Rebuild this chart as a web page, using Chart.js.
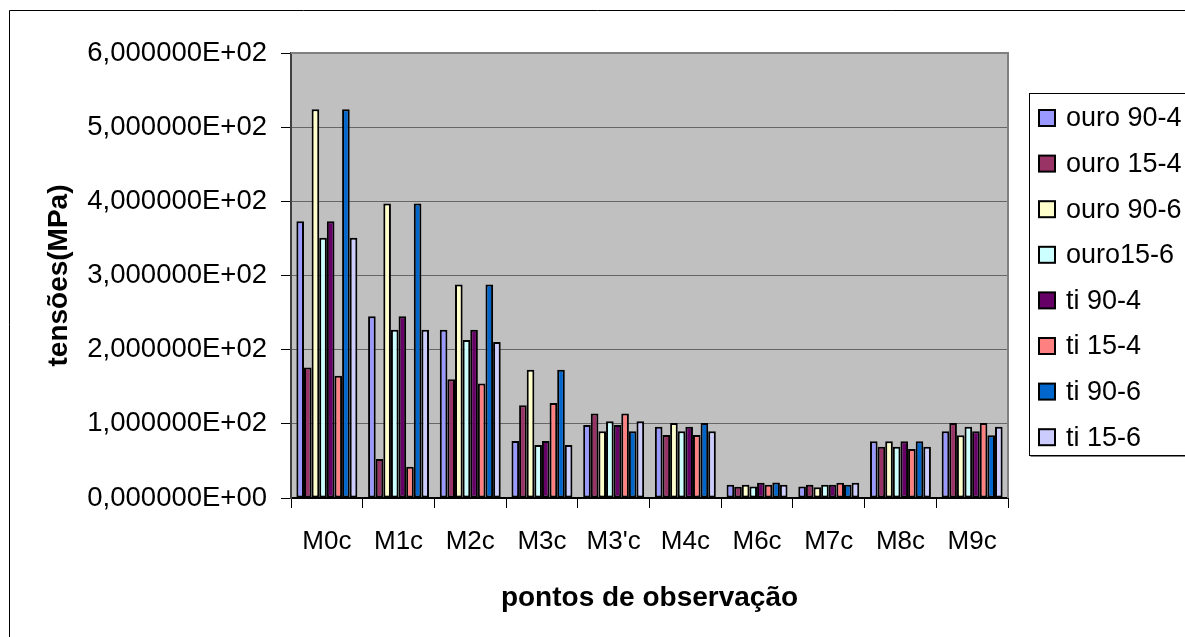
<!DOCTYPE html>
<html>
<head>
<meta charset="utf-8">
<script src="https://cdn.jsdelivr.net/npm/chart.js@4/dist/chart.umd.min.js"></script>
<style>
  html, body { margin: 0; padding: 0; background: #fff; }
  canvas { display: block; }
</style>
</head>
<body>
<canvas id="c" width="1185" height="637"></canvas>
<script>
// Observation points
const categories = ['M0c', 'M1c', 'M2c', 'M3c', "M3'c", 'M4c', 'M6c', 'M7c', 'M8c', 'M9c'];

// Stress values (MPa) per specimen
const ouro90_4 = [373, 245, 227, 77, 98.5, 96, 17.8, 15.6, 76.5, 90];
const ouro15_4 = [176, 52.5, 160, 125, 114, 85, 15.1, 17.8, 69, 101];
const ouro90_6 = [524, 397, 288, 173, 90, 101, 17.8, 14.6, 76.5, 84.6];
const ouro15_6 = [351, 227, 213, 71.5, 103.5, 90, 15.6, 17.8, 69, 96];
const ti90_4   = [373, 245, 227, 77, 98.5, 96, 20.5, 17.8, 76.5, 90];
const ti15_4   = [165, 42, 154.5, 128, 114, 85, 17.8, 20.5, 66, 101];
const ti90_6   = [524, 397, 288, 173, 90, 101, 21, 17.8, 76.5, 84.6];
const ti15_6   = [351, 227, 210.5, 71.5, 103.5, 90, 17.8, 20.5, 69, 96];

const seriesNames = ['ouro 90-4', 'ouro 15-4', 'ouro 90-6', 'ouro15-6', 'ti 90-4', 'ti 15-4', 'ti 90-6', 'ti 15-6'];
const seriesValues = [ouro90_4, ouro15_4, ouro90_6, ouro15_6, ti90_4, ti15_4, ti90_6, ti15_6];
const seriesColors = ['#9999FF', '#993366', '#FFFFCC', '#CCFFFF', '#660066', '#FF8080', '#0066CC', '#CCCCFF'];

// Y axis range
const yMin = 0, yMax = 600, yStep = 100;

const FONT = '"Liberation Sans", Arial, sans-serif';

function sciLabel(v) {
  let exp = v === 0 ? 0 : Math.floor(Math.log10(Math.abs(v)));
  const mant = v === 0 ? 0 : v / Math.pow(10, exp);
  const sign = exp < 0 ? '-' : '+';
  return mant.toFixed(6).replace('.', ',') + 'E' + sign + String(Math.abs(exp)).padStart(2, '0');
}

// Grey plot background, plot frame and outer chart frame
const framePlugin = {
  id: 'frame',
  beforeDraw(chart) {
    const { ctx, chartArea: a } = chart;
    ctx.save();
    ctx.fillStyle = '#fff';
    ctx.fillRect(0, 0, chart.width, chart.height);
    ctx.fillStyle = '#C0C0C0';
    ctx.fillRect(a.left, a.top, a.right - a.left, a.bottom - a.top);
    ctx.restore();
  },
  afterDraw(chart) {
    const { ctx, chartArea: a } = chart;
    ctx.save();
    ctx.strokeStyle = '#808080';
    ctx.lineWidth = 2;
    ctx.beginPath();
    ctx.moveTo(a.left, a.top);
    ctx.lineTo(a.right, a.top);
    ctx.lineTo(a.right, a.bottom);
    ctx.stroke();
    // outer chart border
    ctx.strokeStyle = '#000';
    ctx.lineWidth = 1;
    ctx.beginPath();
    ctx.moveTo(9.5, chart.height + 2);
    ctx.lineTo(9.5, 10.5);
    ctx.lineTo(chart.width + 2, 10.5);
    ctx.stroke();
    ctx.restore();
  }
};

// Boxed legend on the right, built from the datasets
const legendPlugin = {
  id: 'boxLegend',
  afterDraw(chart) {
    const { ctx } = chart;
    const x0 = 1029.5, y0 = 93.5, h = 362;
    ctx.save();
    ctx.strokeStyle = '#808080';
    ctx.lineWidth = 1;
    ctx.beginPath();
    ctx.moveTo(x0 + 1, y0 + h + 1);
    ctx.lineTo(chart.width + 2, y0 + h + 1);
    ctx.stroke();
    ctx.strokeStyle = '#000';
    ctx.strokeRect(x0, y0, 300, h);
    ctx.font = '27px ' + FONT;
    ctx.textBaseline = 'middle';
    ctx.textAlign = 'left';
    chart.data.datasets.forEach((ds, i) => {
      const cy = 118 + i * 45.6;
      ctx.fillStyle = ds.backgroundColor;
      ctx.fillRect(1039, cy - 8, 16, 16);
      ctx.strokeStyle = '#000';
      ctx.lineWidth = 2;
      ctx.strokeRect(1039, cy - 8, 16, 16);
      ctx.fillStyle = '#000';
      ctx.fillText(ds.label, 1066, cy + 1);
    });
    ctx.restore();
  }
};

new Chart(document.getElementById('c'), {
  type: 'bar',
  data: {
    labels: categories,
    datasets: seriesNames.map((name, i) => ({
      label: name,
      data: seriesValues[i],
      backgroundColor: seriesColors[i],
      borderColor: '#000',
      borderWidth: 2,
      borderSkipped: false
    }))
  },
  options: {
    responsive: false,
    animation: false,
    devicePixelRatio: 1,
    categoryPercentage: 0.85,
    barPercentage: 1.0,
    layout: { padding: { left: 0, top: 53, right: 177, bottom: 0 } },
    plugins: {
      legend: { display: false },
      tooltip: { enabled: false },
      title: { display: false }
    },
    scales: {
      x: {
        afterFit(scale) { scale.height = 139; },
        grid: {
          offset: true,
          drawOnChartArea: false,
          drawTicks: true,
          tickLength: 10,
          tickColor: '#000'
        },
        border: { display: true, color: '#000', width: 2 },
        ticks: {
          color: '#000',
          padding: 18,
          maxRotation: 0,
          autoSkip: false,
          font: { family: FONT, size: 26 }
        },
        title: {
          display: true,
          text: 'pontos de observação',
          color: '#000',
          font: { family: FONT, size: 28, weight: 'bold' },
          padding: { top: 0, bottom: 22 }
        }
      },
      y: {
        min: yMin,
        max: yMax,
        afterFit(scale) { scale.width = 291; },
        grid: {
          color: '#666',
          lineWidth: 1,
          drawTicks: true,
          tickLength: 10,
          tickColor: '#000'
        },
        border: { display: true, color: '#404040', width: 2 },
        ticks: {
          stepSize: yStep,
          color: '#000',
          padding: 14,
          font: { family: FONT, size: 27.5 },
          callback: (v) => sciLabel(v)
        },
        title: {
          display: true,
          text: 'tensões(MPa)',
          color: '#000',
          font: { family: FONT, size: 28, weight: 'bold' },
          padding: { top: 42, bottom: 0 }
        }
      }
    }
  },
  plugins: [framePlugin, legendPlugin]
});
</script>
</body>
</html>
